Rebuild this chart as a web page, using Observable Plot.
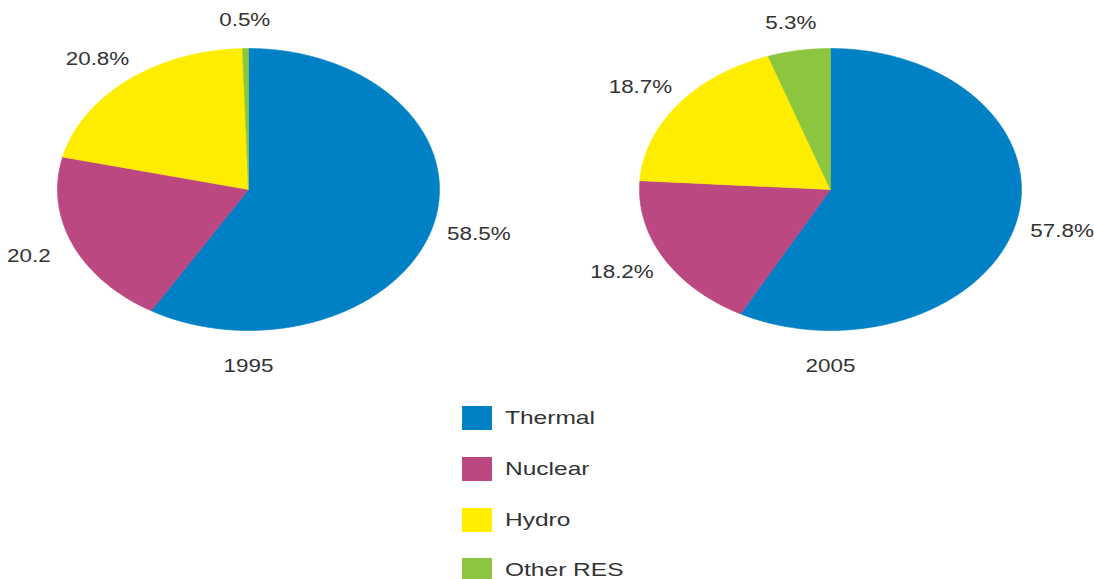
<!DOCTYPE html>
<html>
<head>
<meta charset="utf-8">
<script src="https://cdn.jsdelivr.net/npm/d3@7"></script>
<script src="https://cdn.jsdelivr.net/npm/@observablehq/plot@0.6"></script>
<style>
  html, body { margin: 0; padding: 0; background: #fff; }
  body { width: 1094px; height: 579px; overflow: hidden; font-family: "Liberation Sans", Arial, sans-serif; }
  #legend { padding-left: 462px; padding-top: 3px; }
  .row { display: flex; align-items: center; height: 50.7px; }
  .sw { width: 30px; height: 24px; flex: none; }
  .lab { margin-left: 13px; font-size: 19px; color: #333; transform: scaleX(1.29); transform-origin: left center; white-space: nowrap; }
</style>
</head>
<body>
<div id="chart"></div>
<div id="legend"></div>
<script>
// ---- data ----
const years = ["1995", "2005"];
const sources = ["Thermal", "Nuclear", "Hydro", "Other RES"];
const colors = ["#0081c6", "#bb4880", "#ffed00", "#8cc63f"];
const share1995 = [58.5, 20.2, 20.8, 0.5];
const share2005 = [57.8, 18.2, 18.7, 5.3];
const labels1995 = ["58.5%", "20.2", "20.8%", "0.5%"];
const labels2005 = ["57.8%", "18.2%", "18.7%", "5.3%"];

// ---- layout (pie centres in data units) ----
const centers = {"1995": 0, "2005": 3.047};
const shares = {"1995": share1995, "2005": share2005};
const labelsBy = {"1995": labels1995, "2005": labels2005};

const pie = d3.pie().sort(null).value(d => d.value).startAngle(0).endAngle(2 * Math.PI);

const polys = [];
const labelRows = [];
const yearRows = [];
for (const yr of years) {
  const cx = centers[yr];
  const rows = sources.map((s, i) => ({source: s, value: shares[yr][i], label: labelsBy[yr][i]}));
  const arcs = pie(rows);
  arcs.forEach((a, i) => {
    const key = yr + "-" + a.data.source;
    polys.push({key, source: a.data.source, x: cx, y: 0});
    const n = Math.max(2, Math.ceil((a.endAngle - a.startAngle) / (Math.PI / 360)));
    for (let k = 0; k <= n; k++) {
      const t = a.startAngle + (a.endAngle - a.startAngle) * k / n;
      polys.push({key, source: a.data.source, x: cx + Math.sin(t), y: Math.cos(t)});
    }
    polys.push({key, source: a.data.source, x: cx, y: 0});
    const mid = (a.startAngle + a.endAngle) / 2;
    labelRows.push({x: cx + 1.25 * Math.sin(mid), y: 1.2 * Math.cos(mid), text: a.data.label});
  });
  yearRows.push({x: cx, y: -1.25, text: yr});
}

const W = 1094, H = 390;
const chart = Plot.plot({
  width: W,
  height: H,
  margin: 0,
  x: {domain: [-248 / 191, (W - 248) / 191], axis: null},
  y: {domain: [-(H - 189) / 141, 189 / 141], axis: null},
  color: {domain: sources, range: colors},
  style: {fontFamily: '"Liberation Sans", Arial, sans-serif', background: "#fff"},
  marks: [
    Plot.line(polys, {x: "x", y: "y", z: "key", fill: "source", stroke: "source", strokeWidth: 0.6, curve: "linear"}),
    Plot.text(labelRows, {x: "x", y: "y", text: "text", fontSize: 19, fill: "#333", textAnchor: "middle"}),
    Plot.text(yearRows, {x: "x", y: "y", text: "text", fontSize: 19, fill: "#333", textAnchor: "middle"})
  ]
});
chart.querySelectorAll("text").forEach(t => {
  const tr = t.getAttribute("transform") || "";
  t.setAttribute("transform", tr + " scale(1.18,1)");
});
document.getElementById("chart").appendChild(chart);

// ---- legend ----
const legend = document.getElementById("legend");
sources.forEach((s, i) => {
  const row = document.createElement("div");
  row.className = "row";
  const sw = document.createElement("div");
  sw.className = "sw";
  sw.style.background = colors[i];
  const lab = document.createElement("span");
  lab.className = "lab";
  lab.textContent = s;
  row.appendChild(sw);
  row.appendChild(lab);
  legend.appendChild(row);
});
</script>
</body>
</html>
